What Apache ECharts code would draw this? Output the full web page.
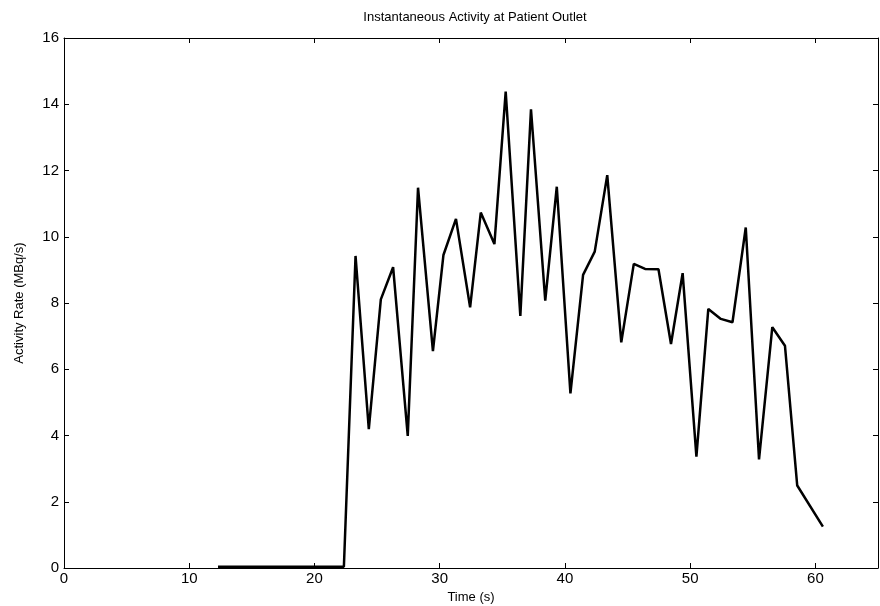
<!DOCTYPE html>
<html>
<head>
<meta charset="utf-8">
<script src="https://cdn.jsdelivr.net/npm/echarts@6/dist/echarts.min.js"></script>
<style>
  html, body { margin: 0; padding: 0; background: #fff; }
  #chart { width: 880px; height: 606px; }
</style>
</head>
<body>
<div id="chart"></div>
<script>
// time (s) and activity rate (MBq/s)
const times = [12.3, 22.35, 23.28, 24.34, 25.3, 26.28, 27.45, 28.27, 29.46, 30.3, 31.3, 32.43, 33.28, 34.37, 35.27, 36.44, 37.29, 38.43, 39.35, 40.44, 41.45, 42.38, 43.38, 44.5, 45.5, 46.4, 47.47, 48.47, 49.4, 50.5, 51.45, 52.45, 53.38, 54.44, 55.5, 56.56, 57.57, 58.55, 60.6];
const activity = [0.04, 0.04, 9.42, 4.19, 8.11, 9.08, 3.99, 11.48, 6.55, 9.45, 10.54, 7.87, 10.73, 9.78, 14.38, 7.61, 13.85, 8.07, 11.51, 5.27, 8.85, 9.55, 11.86, 6.81, 9.18, 9.03, 9.02, 6.76, 8.9, 3.36, 7.82, 7.52, 7.42, 10.28, 3.28, 7.27, 6.71, 2.49, 1.25];
const xTicks = [0, 10, 20, 30, 40, 50, 60];
const yTicks = [0, 2, 4, 6, 8, 10, 12, 14, 16];

const font = "Liberation Sans, Arial, sans-serif";
const chart = echarts.init(document.getElementById("chart"));

const boxLine = { show: true, onZero: false, lineStyle: { color: "#000", width: 1 } };
const tick = vals => ({ show: true, inside: true, length: 5, customValues: vals, lineStyle: { color: "#000" } });
const label = vals => ({ color: "#000", fontFamily: font, fontSize: 15, customValues: vals });

chart.setOption({
    animation: false,
    backgroundColor: "#fff",
    title: {
        text: "Instantaneous Activity at Patient Outlet",
        left: 470,
        top: 6,
        textAlign: "center",
        textStyle: { fontFamily: font, fontSize: 13, fontWeight: "normal", color: "#000" },
    },
    grid: { left: 64, right: 2, top: 38, bottom: 38, outerBoundsMode: "none" },
    xAxis: [
        {
            type: "value",
            min: 0,
            max: 65,
            axisLine: boxLine,
            axisTick: tick(xTicks),
            splitLine: { show: false },
            axisLabel: { ...label(xTicks), margin: 3 },
            name: "Time (s)",
            nameLocation: "middle",
            nameGap: 23,
            nameTextStyle: { fontFamily: font, fontSize: 13, color: "#000" },
        },
        {
            type: "value",
            position: "top",
            min: 0,
            max: 65,
            axisLine: boxLine,
            axisTick: tick(xTicks),
            splitLine: { show: false },
            axisLabel: { show: false },
        },
    ],
    yAxis: [
        {
            type: "value",
            min: 0,
            max: 16,
            axisLine: boxLine,
            axisTick: tick(yTicks),
            splitLine: { show: false },
            axisLabel: { ...label(yTicks), margin: 5 },
            name: "Activity Rate (MBq/s)",
            nameLocation: "middle",
            nameGap: 38,
            nameTextStyle: { fontFamily: font, fontSize: 13, color: "#000" },
        },
        {
            type: "value",
            position: "right",
            min: 0,
            max: 16,
            axisLine: boxLine,
            axisTick: tick(yTicks),
            splitLine: { show: false },
            axisLabel: { show: false },
        },
    ],
    series: [
        {
            type: "line",
            data: times.map((t, i) => [t, activity[i]]),
            showSymbol: false,
            lineStyle: { color: "#000", width: 2.5 },
            silent: true,
        },
    ],
});
</script>
</body>
</html>
